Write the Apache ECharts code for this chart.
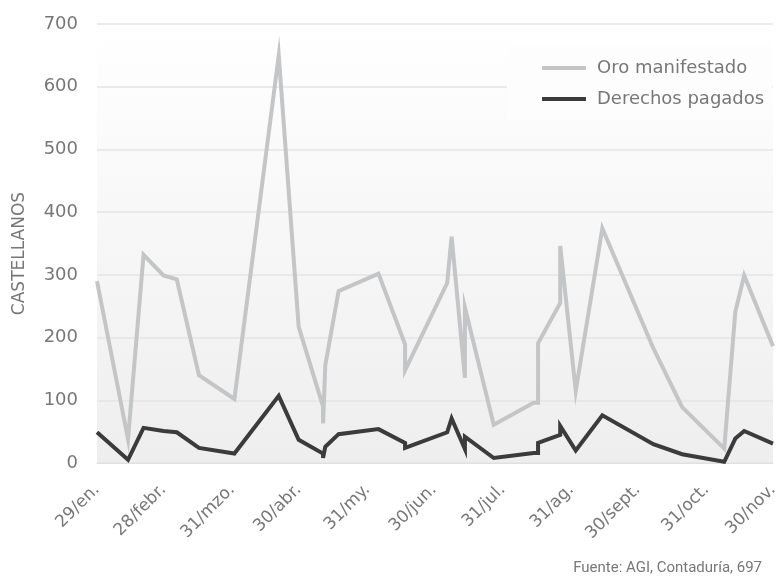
<!DOCTYPE html>
<html>
<head>
<meta charset="utf-8">
<script src="https://cdn.jsdelivr.net/npm/echarts@6/dist/echarts.min.js"></script>
<style>html,body{margin:0;padding:0;background:#fff;}#c{width:779px;height:581px;}</style>
</head>
<body>
<div id="c"></div>
<script>
var fechas = ['01-29','02-12','02-19','02-28','03-06','03-16','04-01','04-21','04-30','05-11','05-11','05-12','05-18','06-05','06-17','06-17','07-06','07-08','07-14','07-14','07-27','08-14','08-16','08-16','08-26','08-26','09-02','09-14','10-07','10-20','11-08','11-13','11-17','11-30'];
var oroManifestado = [290,38,332,299,293,140,102,650,217,90,63,156,274,302,189,148,287,361,136,248,61,96,96,191,255,346,115,374,183,89,23,241,299,186];
var derechosPagados = [49,5,56,51,49,24,15,107,37,15,8,26,46,54,32,24,49,71,22,42,8,16,16,32,45,59,20,76,30,14,2,39,51,31];
var tickFechas = ['01-29','02-28','03-31','04-30','05-31','06-30','07-31','08-31','09-30','10-31','11-30'];
var tickLabels = ['29/en.','28/febr.','31/mzo.','30/abr.','31/my.','30/jun.','31/jul.','31/ag.','30/sept.','31/oct.','30/nov.'];
var yTicks = [0,100,200,300,400,500,600,700];

// day number (days since the first tick date), non-leap year
function dayNum(md){
  var p = md.split('-');
  var t = Date.UTC(2001, +p[0]-1, +p[1]);
  var p0 = tickFechas[0].split('-');
  return Math.round((t - Date.UTC(2001, +p0[0]-1, +p0[1])) / 86400000);
}
var tickDays = tickFechas.map(dayNum);
function pairs(vals){ return fechas.map(function(f,i){ return [dayNum(f), vals[i]]; }); }

var font = 'DejaVu Sans';
var chart = echarts.init(document.getElementById('c'));
chart.setOption({
  animation: false,
  textStyle: { fontFamily: font },
  grid: {
    left: 97, right: 6, top: 24, bottom: 118,
    containLabel: false,
    outerBoundsMode: 'none',
    show: true, borderWidth: 0,
    backgroundColor: new echarts.graphic.LinearGradient(0,0,0,1,[{offset:0,color:'#ffffff'},{offset:1,color:'#eeeeee'}])
  },
  title: {
    text: 'Fuente: AGI, Contaduría, 697',
    right: 12, bottom: 0,
    textStyle: { fontFamily: 'Roboto', fontSize: 15, fontWeight: 'normal', color: '#777' }
  },
  legend: {
    orient: 'vertical',
    left: 507, top: 47,
    padding: [12, 8, 12, 35],
    backgroundColor: '#fdfdfd',
    itemWidth: 44, itemHeight: 4, itemGap: 13,
    icon: 'rect',
    textStyle: { fontFamily: font, fontSize: 18, color: '#777', padding: [0,0,0,6] },
    data: ['Oro manifestado','Derechos pagados']
  },
  xAxis: {
    type: 'value',
    min: tickDays[0], max: tickDays[tickDays.length-1],
    axisLine: { show: true, lineStyle: { color: '#e0e0e0', width: 1 } },
    axisTick: { show: false },
    splitLine: { show: false },
    axisLabel: {
      customValues: tickDays,
      rotate: 45,
      margin: 24,
      color: '#777',
      fontFamily: font,
      fontSize: 17,
      showMinLabel: true, showMaxLabel: true,
      hideOverlap: false,
      formatter: function(v){ var i = tickDays.indexOf(Math.round(v)); return i >= 0 ? tickLabels[i] : ''; }
    }
  },
  yAxis: {
    type: 'value',
    min: yTicks[0], max: yTicks[yTicks.length-1], interval: 100,
    name: 'CASTELLANOS',
    nameLocation: 'middle',
    nameGap: 69,
    nameTextStyle: { fontFamily: font, fontSize: 17, color: '#777', padding: [0,0,0,-20] },
    axisLine: { show: false },
    axisTick: { show: false },
    splitLine: { lineStyle: { color: '#e4e4e4', width: 1.5 } },
    axisLabel: { color: '#777', fontFamily: font, fontSize: 18, margin: 19 }
  },
  series: [
    {
      name: 'Oro manifestado', type: 'line',
      data: pairs(oroManifestado),
      showSymbol: false, symbol: 'none',
      lineStyle: { color: '#c4c5c7', width: 4, join: 'miter' },
      itemStyle: { color: '#c4c5c7' }
    },
    {
      name: 'Derechos pagados', type: 'line',
      data: pairs(derechosPagados),
      showSymbol: false, symbol: 'none',
      lineStyle: { color: '#3b3b3c', width: 4, join: 'miter' },
      itemStyle: { color: '#3b3b3c' }
    }
  ]
});
</script>
</body>
</html>
